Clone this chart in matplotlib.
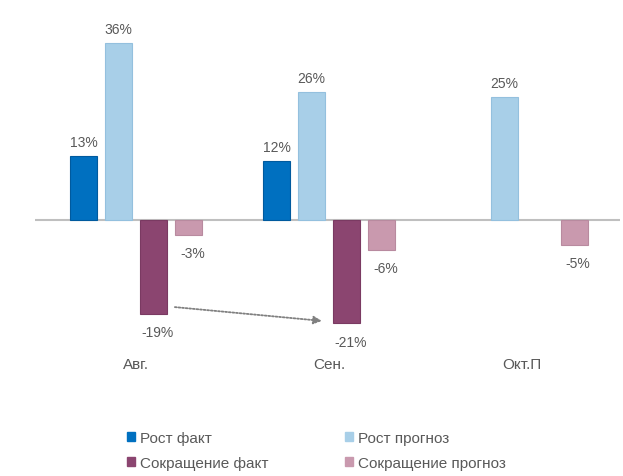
import matplotlib
matplotlib.use("Agg")
import matplotlib.pyplot as plt
from matplotlib.patches import Patch
import numpy as np

categories = ["Авг.", "Сен.", "Окт.П"]
series_names = ["Рост факт", "Рост прогноз", "Сокращение факт", "Сокращение прогноз"]
growth_fact = [13, 12, None]
growth_forecast = [36, 26, 25]
cut_fact = [-19, -21, None]
cut_forecast = [-3, -6, -5]
colors = ["#0070C0", "#A8CFE8", "#8B4570", "#C999AE"]
edges = ["#005A9E", "#94C0DE", "#7A3A62", "#B88A9F"]

plt.rcParams['font.family'] = ['Liberation Sans Narrow', 'Liberation Sans', 'DejaVu Sans']

fig = plt.figure(figsize=(6.23, 4.77), dpi=100)
ax = fig.add_axes([35/623, (477-345)/477, 585/623, 335/477])

x = np.arange(len(categories))
width = 0.14
step = 0.182
all_series = [growth_fact, growth_forecast, cut_fact, cut_forecast]
offsets = [-1.5*step, -0.5*step, 0.5*step, 1.5*step]
for vals, off, c, ec in zip(all_series, offsets, colors, edges):
    for xi, v in zip(x, vals):
        if v is None:
            continue
        ax.bar(xi + off, v, width=width, color=c, edgecolor=ec, linewidth=0.8, zorder=2)
        if v >= 0:
            ax.text(xi + off, v + 1.5, f"{v}%", ha='center', va='bottom', fontsize=10, color='#595959')
        else:
            ax.text(xi + off + 0.02, v - 2.3, f"{v}%", ha='center', va='top', fontsize=10, color='#595959')

ax.axhline(0, color='#BFBFBF', lw=1.5, zorder=1)
ax.set_xlim(-0.526, 2.51)
ax.set_ylim(-25.2, 42.9)

# dotted arrow from Aug cut fact to Sep cut fact
ax.annotate("", xy=(0.962, -20.5), xytext=(0.2, -17.7),
            arrowprops=dict(arrowstyle='-|>', linestyle=(0, (1, 1)), color='#808080', lw=1.3,
                            mutation_scale=12, shrinkA=0, shrinkB=0))

ax.set_xticks(x, categories)
ax.tick_params(axis='x', length=0, pad=9.5, labelsize=11, labelcolor='#595959')
ax.set_yticks([])
for s in ax.spines.values():
    s.set_visible(False)

handles = [Patch(facecolor=colors[i], edgecolor=colors[i]) for i in [0, 2, 1, 3]]
labels = [series_names[i] for i in [0, 2, 1, 3]]
fig.legend(handles, labels, ncol=2, loc='upper left', bbox_to_anchor=(113/623, 1-418/477),
           frameon=False, fontsize=11, handlelength=0.55, handleheight=0.55, handletextpad=0.3,
           columnspacing=5.0, labelspacing=0.75, labelcolor='#595959')

fig.savefig("out.png", dpi=100)
